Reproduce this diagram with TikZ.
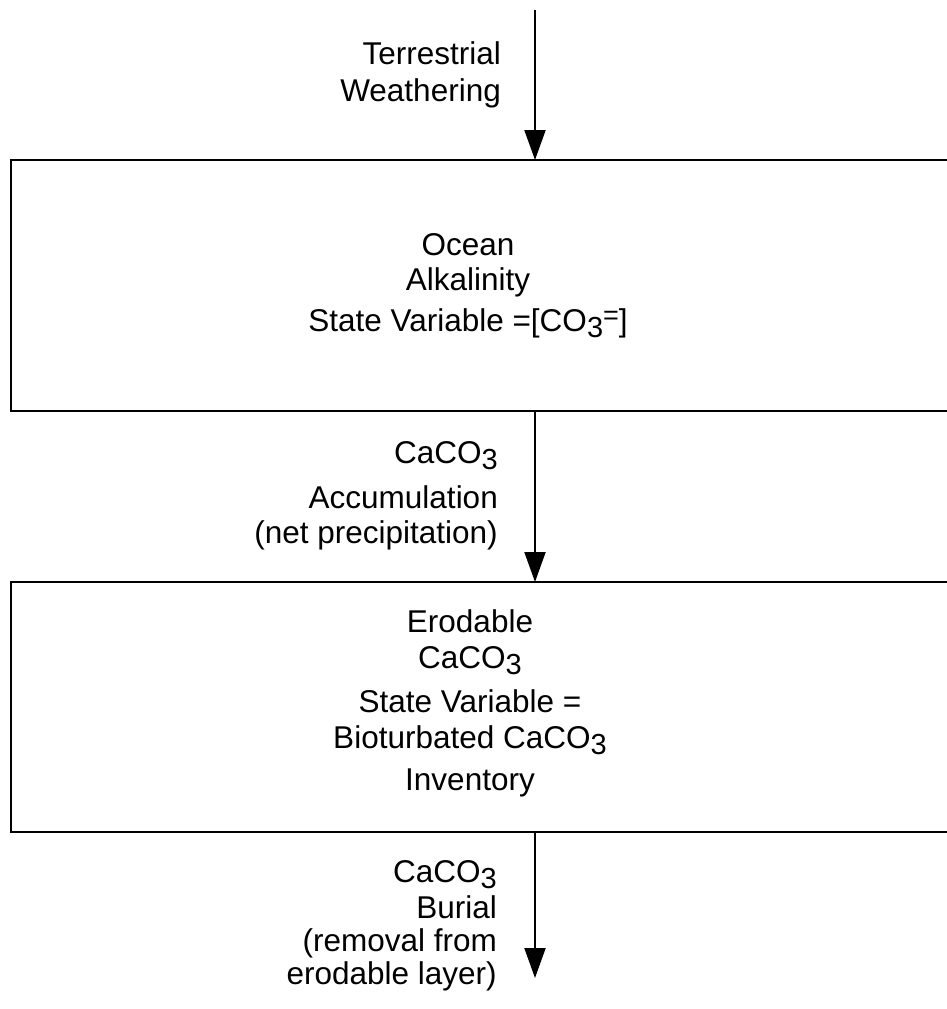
\documentclass[tikz,border=0pt]{standalone}
\usepackage{fontspec}
\setmainfont{Liberation Sans}
\usetikzlibrary{arrows.meta}
\newcommand\mysub[1]{\raisebox{-0.22em}{\fontsize{29}{29}\selectfont #1}}
\newcommand\mysup[1]{\raisebox{0.22em}{\fontsize{27}{27}\selectfont #1}}
\begin{document}
\begin{tikzpicture}[x=1pt,y=-1pt,
  box/.style={draw, line width=2.4pt, rectangle, inner sep=0pt, outer sep=0pt},
  flow/.style={line width=2pt, -{Triangle[width=21pt,length=30pt]}},
  txt/.style={inner sep=0pt, font=\fontsize{31.5}{36}\selectfont},
  rtxt/.style={txt, anchor=base east},
  ctxt/.style={txt, anchor=base},
]
\useasboundingbox (0,0) rectangle (947,1009);
\clip (0,0) rectangle (947,1009);
% boxes
\node[box, minimum width=960pt, minimum height=251pt, anchor=north west] (box1) at (11,160) {};
\node[box, minimum width=960pt, minimum height=250pt, anchor=north west] (box2) at (11,582) {};
% connectors
\coordinate (src) at (535,10);
\coordinate (sink) at (535,978);
\draw[flow] (src) -- (src |- box1.north);
\draw[flow] (src |- box1.south) -- (src |- box2.north);
\draw[flow] (src |- box2.south) -- (sink);
% label 1
\node[rtxt] (l1a) at (501,64) {Terrestrial};
\node[rtxt] (l1b) at (501,101) {Weathering};
% box 1 text
\node[ctxt] (b1a) at (468,255) {Ocean};
\node[ctxt] (b1b) at (468,290) {Alkalinity};
\node[ctxt] (b1c) at (468,331) {State Variable =[CO\mysub{3}\mysup{=}]};
% label 2
\node[rtxt] (l2a) at (498,463) {CaCO\mysub{3}};
\node[rtxt] (l2b) at (498,508) {Accumulation};
\node[rtxt] (l2c) at (498,543) {(net precipitation)};
% box 2 text
\node[ctxt] (b2a) at (470,632) {Erodable};
\node[ctxt] (b2b) at (470,668) {CaCO\mysub{3}};
\node[ctxt] (b2c) at (470,712) {State Variable =};
\node[ctxt] (b2d) at (470,748) {Bioturbated CaCO\mysub{3}};
\node[ctxt] (b2e) at (470,790) {Inventory};
% label 3
\node[rtxt] (l3a) at (497,882) {CaCO\mysub{3}};
\node[rtxt] (l3b) at (497,918) {Burial};
\node[rtxt] (l3c) at (497,951) {(removal from};
\node[rtxt] (l3d) at (497,984) {erodable layer)};
\end{tikzpicture}
\end{document}
